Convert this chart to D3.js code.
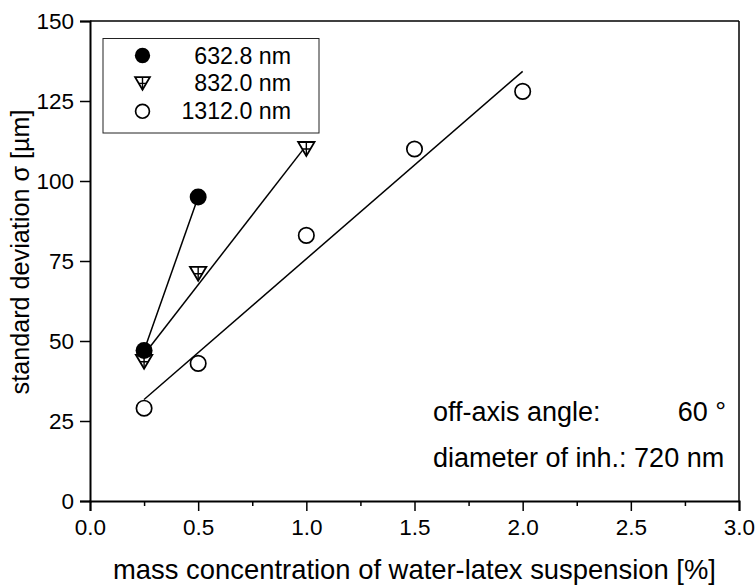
<!DOCTYPE html>
<html>
<head>
<meta charset="utf-8">
<script src="https://cdn.jsdelivr.net/npm/d3@7"></script>
<style>
  html, body { margin: 0; padding: 0; background: #fff; }
  svg { display: block; }
  text { font-family: "Liberation Sans", Arial, Helvetica, sans-serif; fill: #000; }
</style>
</head>
<body>
<script>
// ---- data ----
const seriesNames = ["632.8 nm", "832.0 nm", "1312.0 nm"];
const conc632 = [0.25, 0.5];
const sigma632 = [47, 95];
const conc832 = [0.25, 0.5, 1.0];
const sigma832 = [43.5, 71, 110];
const conc1312 = [0.25, 0.5, 1.0, 1.5, 2.0];
const sigma1312 = [29, 43, 83, 110, 128];
const xTicks = [0, 0.5, 1.0, 1.5, 2.0, 2.5, 3.0];
const xMinorTicks = [0.25, 0.75, 1.25, 1.75, 2.25, 2.75];
const yTicks = [0, 25, 50, 75, 100, 125, 150];
const xLabel = "mass concentration of water-latex suspension [%]";
const yLabel = "standard deviation \u03c3 [\u00b5m]";
const annoLabels = ["off-axis angle:", "diameter of inh.: 720 nm"];
const annoValue = "60 \u00b0";

// ---- layout ----
const W = 756, H = 587;
const L = 90, R = 739, T = 21, B = 501;

const svg = d3.select("body").append("svg").attr("width", W).attr("height", H);

const x = d3.scaleLinear().domain([0, 3]).range([L, R]);
const y = d3.scaleLinear().domain([0, 150]).range([B, T]);

// frame top/right
svg.append("line").attr("x1", L).attr("x2", R).attr("y1", T).attr("y2", T)
  .attr("stroke", "#000").attr("stroke-width", 1.5);
svg.append("line").attr("x1", R).attr("x2", R).attr("y1", T).attr("y2", B)
  .attr("stroke", "#000").attr("stroke-width", 1.5);

// x axis
svg.append("g").attr("transform", `translate(0,${B})`)
  .call(d3.axisBottom(x).tickValues(xTicks).tickFormat(d3.format(".1f"))
    .tickSize(10).tickPadding(8));
svg.append("g").attr("transform", `translate(0,${B})`)
  .call(d3.axisBottom(x).tickValues(xMinorTicks).tickFormat("").tickSize(5))
  .call(g => g.select(".domain").remove());
// y axis
svg.append("g").attr("transform", `translate(${L},0)`)
  .call(d3.axisLeft(y).tickValues(yTicks).tickSize(10).tickPadding(6));

svg.selectAll(".domain").attr("stroke", "#000").attr("stroke-width", 2);
svg.selectAll(".tick line").attr("stroke", "#000").attr("stroke-width", 1.5);
svg.selectAll(".tick text").attr("font-size", 22.5)
  .attr("font-family", "'Liberation Sans', Arial, sans-serif").attr("fill", "#000");

// axis labels
svg.append("text").attr("x", (L + R) / 2).attr("y", 579)
  .attr("text-anchor", "middle").attr("font-size", 27.4).text(xLabel);
svg.append("text").attr("transform", "translate(29,252) rotate(-90)")
  .attr("text-anchor", "middle").attr("font-size", 25.2).text(yLabel);

// regression helper
function fit(xs, ys) {
  const mx = d3.mean(xs), my = d3.mean(ys);
  let sxy = 0, sxx = 0;
  xs.forEach((v, i) => { sxy += (v - mx) * (ys[i] - my); sxx += (v - mx) ** 2; });
  const b = sxy / sxx, a = my - b * mx;
  const x0 = d3.min(xs), x1 = d3.max(xs);
  return [[x0, a + b * x0], [x1, a + b * x1]];
}

const series = [
  { name: seriesNames[0], xs: conc632, ys: sigma632, sym: "filled" },
  { name: seriesNames[1], xs: conc832, ys: sigma832, sym: "tri" },
  { name: seriesNames[2], xs: conc1312, ys: sigma1312, sym: "open" }
];

const line = d3.line().x(d => x(d[0])).y(d => y(d[1]));
const gLines = svg.append("g");
series.forEach(s => {
  gLines.append("path").attr("d", line(fit(s.xs, s.ys)))
    .attr("fill", "none").attr("stroke", "#000").attr("stroke-width", 1.5);
});

function drawMarker(g, sym, cx, cy, scale) {
  if (sym === "filled") {
    g.append("circle").attr("cx", cx).attr("cy", cy).attr("r", 8.5 * scale)
      .attr("fill", "#000");
  } else if (sym === "open") {
    g.append("circle").attr("cx", cx).attr("cy", cy).attr("r", 7.7 * scale)
      .attr("fill", "#fff").attr("stroke", "#000").attr("stroke-width", 1.7);
  } else {
    const w = 8.2 * scale, h = 14 * scale;
    const top = cy - h / 2, bot = cy + h / 2;
    g.append("path")
      .attr("d", `M${cx - w},${top}L${cx + w},${top}L${cx},${bot}Z`)
      .attr("fill", "#fff").attr("stroke", "#000").attr("stroke-width", 1.8)
      .attr("stroke-linejoin", "miter");
    g.append("path")
      .attr("d", `M${cx},${top}L${cx},${bot}M${cx - w / 2},${cy}L${cx + w / 2},${cy}`)
      .attr("stroke", "#000").attr("stroke-width", 1.4).attr("fill", "none");
  }
}

const gMarks = svg.append("g");
[2, 1, 0].forEach(i => {
  const s = series[i];
  s.xs.forEach((v, j) => drawMarker(gMarks, s.sym, x(v), y(s.ys[j]), 1));
});

// legend
const leg = svg.append("g");
leg.append("rect").attr("x", 103).attr("y", 38.5).attr("width", 216).attr("height", 94.5)
  .attr("fill", "none").attr("stroke", "#222").attr("stroke-width", 1);
series.forEach((s, i) => {
  const base = 63.5 + i * 27.9;
  drawMarker(leg, s.sym, 142.5, base - 8, 0.9);
  leg.append("text").attr("x", 291).attr("y", base).attr("text-anchor", "end")
    .attr("font-size", 23.2).text(s.name);
});

// annotation
svg.append("text").attr("x", 433).attr("y", 421).attr("font-size", 27).text(annoLabels[0]);
svg.append("text").attr("x", 726).attr("y", 421).attr("text-anchor", "end")
  .attr("font-size", 27).text(annoValue);
svg.append("text").attr("x", 433).attr("y", 467).attr("font-size", 27).text(annoLabels[1]);
</script>
</body>
</html>
